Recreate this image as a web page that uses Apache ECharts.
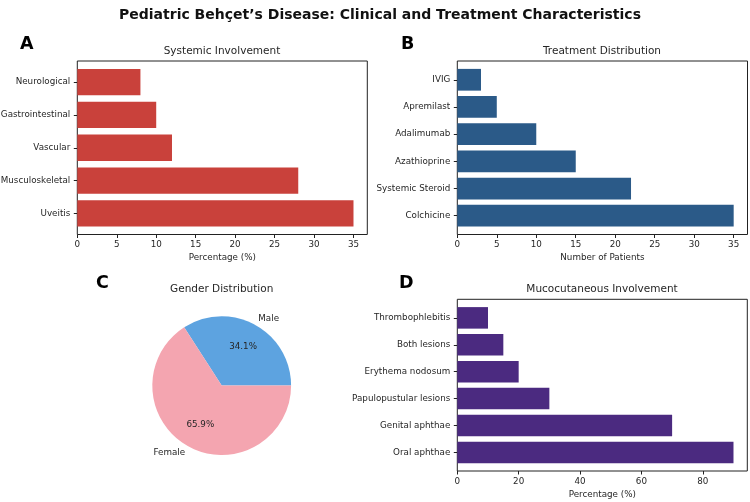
<!DOCTYPE html>
<html lang="en">
<head>
  <meta charset="UTF-8">
  <title>Pediatric Behçet's Disease</title>
  <script src="https://cdn.jsdelivr.net/npm/echarts@6/dist/echarts.min.js"></script>
  <style>
    html, body { margin: 0; padding: 0; background: #fff; }
  </style>
</head>
<body>
  <div id="app" style="width: 750px; height: 502px;"></div>
  <script>
    // panel A
    var sysCats = ['Uveitis', 'Musculoskeletal', 'Vascular', 'Gastrointestinal', 'Neurological']
    var sysVals = [35, 28, 12, 10, 8]
    // panel B
    var txCats = ['Colchicine', 'Systemic Steroid', 'Azathioprine', 'Adalimumab', 'Apremilast', 'IVIG']
    var txVals = [35, 22, 15, 10, 5, 3]
    // panel C
    var genderNames = ['Male', 'Female']
    var genderVals = [15, 29]
    // panel D
    var mucoCats = ['Oral aphthae', 'Genital aphthae', 'Papulopustular lesions', 'Erythema nodosum', 'Both lesions', 'Thrombophlebitis']
    var mucoVals = [90, 70, 30, 20, 15, 10]

    var font = 'DejaVu Sans'
    var txt = '#262626'
    var tickSize = 8.75

    var grids = [], xAxes = [], yAxes = [], series = []

    // one bar panel = a frame grid (box + x ticks) and an inner grid for the bars
    function barPanel(box, cats, vals, max, interval, color, xname) {
      var n = cats.length
      var span = (n - 0.2) * 1.1
      var pxPerUnit = box.h / span
      var inset = ((span - n) / 2) * pxPerUnit

      var fi = grids.length
      grids.push({ left: box.x, top: box.y, width: box.w, height: box.h, show: true, outerBoundsMode: 'none',
        borderColor: '#222', borderWidth: 1, backgroundColor: 'transparent' })
      xAxes.push({ gridIndex: fi, type: 'value', min: 0, max: max, interval: interval,
        axisLine: { show: false }, splitLine: { show: false },
        axisTick: { show: true, length: 3.5, lineStyle: { color: '#222' } },
        axisLabel: { fontSize: tickSize, color: txt, fontFamily: font, margin: 6, showMaxLabel: false },
        name: xname, nameLocation: 'middle', nameGap: 19,
        nameTextStyle: { fontSize: tickSize, color: txt, fontFamily: font } })
      yAxes.push({ gridIndex: fi, type: 'value', show: false })

      var di = grids.length
      grids.push({ left: box.x, top: box.y + inset, width: box.w, height: box.h - 2 * inset, outerBoundsMode: 'none' })
      xAxes.push({ gridIndex: di, type: 'value', min: 0, max: max, show: false })
      yAxes.push({ gridIndex: di, type: 'category', data: cats,
        axisLine: { show: false }, splitLine: { show: false },
        axisTick: { show: true, alignWithLabel: true, length: 3.5, lineStyle: { color: '#222' } },
        axisLabel: { fontSize: tickSize, color: txt, fontFamily: font, margin: 7 } })
      series.push({ type: 'bar', xAxisIndex: di, yAxisIndex: di, data: vals,
        barCategoryGap: '20%', itemStyle: { color: color } })
    }

    barPanel({ x: 77.3, y: 61, w: 290, h: 173.5 }, sysCats, sysVals, 36.75, 5, '#c9413b', 'Percentage (%)')
    barPanel({ x: 457.3, y: 61, w: 290.2, h: 173.5 }, txCats, txVals, 36.75, 5, '#2b5a88', 'Number of Patients')
    barPanel({ x: 457.3, y: 299.3, w: 290, h: 171.7 }, mucoCats, mucoVals, 94.5, 20, '#4b2a80', 'Percentage (%)')

    var pieCenter = [221.7, 385.6]
    var pieR = 69.4
    var pieData = genderNames.map(function (n, i) { return { name: n, value: genderVals[i] } })

    // bigger invisible pie only to place the percentages at 0.6 r
    series.push({ type: 'pie', center: pieCenter, radius: pieR * 1.2, startAngle: 0, clockwise: false,
      silent: true, percentPrecision: 1, avoidLabelOverlap: false,
      data: pieData, itemStyle: { color: 'rgba(0,0,0,0)' },
      label: { position: 'inside', formatter: '{d}%', fontSize: tickSize, color: txt, fontFamily: font },
      labelLine: { show: false } })
    series.push({ type: 'pie', center: pieCenter, radius: pieR, startAngle: 0, clockwise: false,
      avoidLabelOverlap: false, data: pieData, color: ['#5da3e0', '#f4a5b0'],
      label: { position: 'outside', formatter: '{b}', fontSize: tickSize, color: txt, fontFamily: font,
        distanceToLabelLine: 0 },
      labelLine: { show: false, length: pieR * 0.1, length2: 0 } })

    var titles = [
      { text: 'Pediatric Behçet\u2019s Disease: Clinical and Treatment Characteristics', left: 375, top: 3,
        textAlign: 'center', textStyle: { fontSize: 14, fontWeight: 'bold', color: '#111', fontFamily: font } },
      { text: 'Systemic Involvement', left: 222, top: 46, textAlign: 'center' },
      { text: 'Treatment Distribution', left: 602, top: 46, textAlign: 'center' },
      { text: 'Gender Distribution', left: 221.7, top: 284, textAlign: 'center' },
      { text: 'Mucocutaneous Involvement', left: 602, top: 284, textAlign: 'center' },
      { text: 'A', left: 20, top: 35, letter: true },
      { text: 'B', left: 401, top: 35, letter: true },
      { text: 'C', left: 96, top: 274, letter: true },
      { text: 'D', left: 399, top: 274, letter: true }
    ].map(function (t) {
      if (t.textStyle) return t
      var o = { text: t.text, left: t.left, top: t.top, textAlign: t.textAlign || 'left', padding: 0 }
      o.textStyle = t.letter
        ? { fontSize: 17.5, fontWeight: 'bold', color: '#000', fontFamily: font }
        : { fontSize: 10.5, fontWeight: 'normal', color: txt, fontFamily: font }
      return o
    })

    var mCharts = echarts.init(document.querySelector('#app'))
    mCharts.setOption({
      animation: false,
      backgroundColor: '#fff',
      title: titles,
      grid: grids,
      xAxis: xAxes,
      yAxis: yAxes,
      series: series
    })
  </script>
</body>
</html>
